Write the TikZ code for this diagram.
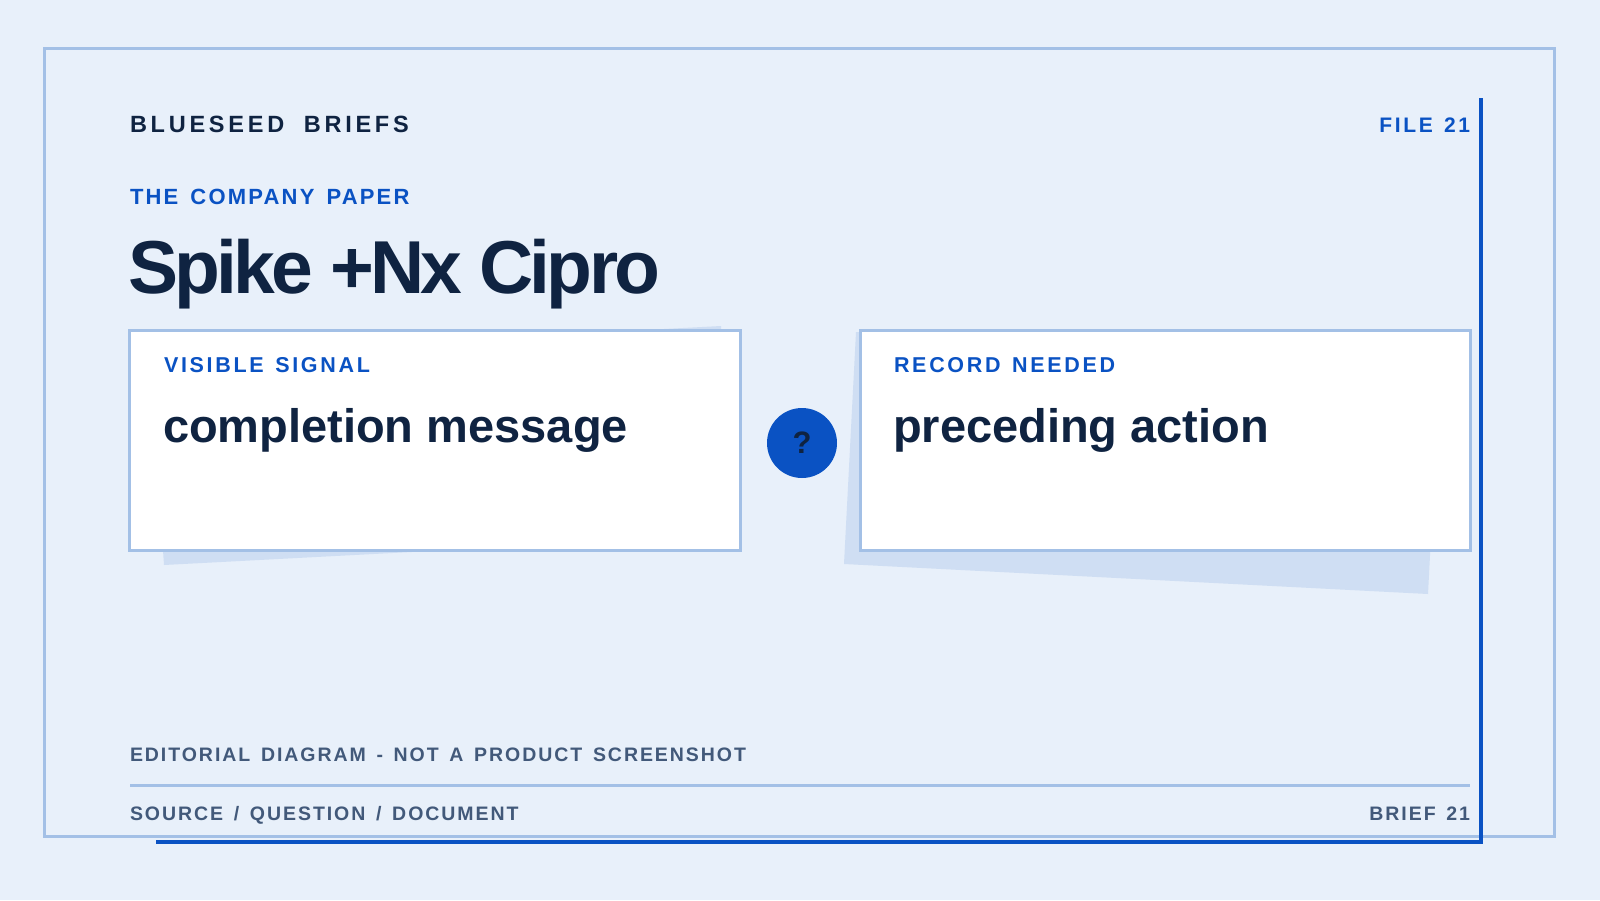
\documentclass[tikz,border=0pt]{standalone}
\usepackage{fontspec}
\setmainfont{Liberation Sans}
\newfontfamily\brandfont[LetterSpace=16,WordSpace=1.9]{Liberation Sans}
\newfontfamily\kickerfont[LetterSpace=10,WordSpace=1.24]{Liberation Sans}
\newfontfamily\labelfont[LetterSpace=12.5,WordSpace=1.33]{Liberation Sans}
\newfontfamily\footfont[LetterSpace=10,WordSpace=1.45]{Liberation Sans}
\newfontfamily\titlefont[LetterSpace=-5]{Liberation Sans}
\definecolor{bgc}{HTML}{E8F0FA}
\definecolor{framec}{HTML}{A3C0E6}
\definecolor{navy}{HTML}{0F2341}
\definecolor{accent}{HTML}{0A52C3}
\definecolor{slate}{HTML}{42597A}
\definecolor{shadowc}{HTML}{CFDEF3}
\tikzset{
  txt/.style={inner sep=0pt, outer sep=0pt, anchor=base west},
  rtxt/.style={inner sep=0pt, outer sep=0pt, anchor=base east},
  brand/.style={txt, text=navy, font=\brandfont\bfseries\fontsize{23.5}{28}\selectfont},
  kicker/.style={txt, text=accent, font=\kickerfont\bfseries\fontsize{22}{26}\selectfont},
  cardlabel/.style={txt, text=accent, font=\labelfont\bfseries\fontsize{21.5}{26}\selectfont},
  cardtext/.style={txt, text=navy, font=\bfseries\fontsize{47}{56}\selectfont},
  foot/.style={txt, text=slate, font=\footfont\bfseries\fontsize{19.5}{24}\selectfont},
  card/.style={draw=framec, line width=3pt, fill=white},
  shadowpoly/.style={fill=shadowc, draw=none},
}
\begin{document}
\begin{tikzpicture}[x=1pt, y=-1pt]
\useasboundingbox (0,0) rectangle (1600,900);
\fill[bgc] (0,0) rectangle (1600,900);
% outer frame
\draw[framec, line width=3pt] (44,48) rectangle (1554,836);
% accent lines
\coordinate (vtop) at (1481,98);
\coordinate (vbot) at (1481,844);
\coordinate (hleft) at (156,842);
\coordinate (hright) at (1483,842);
\draw[accent, line width=3.5pt] (vtop) -- (vbot);
\draw[accent, line width=4pt] (hleft) -- (hright);
% header
\node[brand] (brand) at (130,132) {BLUESEED BRIEFS};
\node[rtxt, text=accent, font=\labelfont\bfseries\fontsize{21}{26}\selectfont] (file) at (1470,132) {FILE 21};
\node[kicker] (kicker) at (130,204) {THE COMPANY PAPER};
\node[txt, text=navy, font=\titlefont\bfseries\fontsize{75}{90}\selectfont] (title) at (128,293) {Spike +Nx Cipro};
% shadows
\fill[shadowpoly] (150,356) -- (721,326) -- (735,535) -- (164,565) -- cycle;
\fill[shadowpoly] (856,332) -- (1440,362) -- (1428,594) -- (844,564) -- cycle;
% cards
\draw[card] (129,330) rectangle (740,550);
\draw[card] (860,330) rectangle (1470,550);
\node[cardlabel] (lab1) at (164,372) {VISIBLE SIGNAL};
\node[cardtext] (txt1) at (163,442) {completion message};
\node[cardlabel] (lab2) at (894,372) {RECORD NEEDED};
\node[cardtext] (txt2) at (893,442) {preceding action};
% question circle
\node[circle, fill=accent, minimum size=70pt, inner sep=0pt, text=navy, font=\bfseries\fontsize{31}{36}\selectfont] (q) at (802,443) {?};
% footer
\node[foot] (ed) at (130,761) {EDITORIAL DIAGRAM - NOT A PRODUCT SCREENSHOT};
\coordinate (sepl) at (130,785);
\coordinate (sepr) at (1470,785);
\draw[framec, line width=3pt] (sepl) -- (sepr);
\node[foot] (src) at (130,820) {SOURCE / QUESTION / DOCUMENT};
\node[rtxt, text=slate, font=\footfont\bfseries\fontsize{19.5}{24}\selectfont] (brief) at (1470,820) {BRIEF 21};
\end{tikzpicture}
\end{document}
